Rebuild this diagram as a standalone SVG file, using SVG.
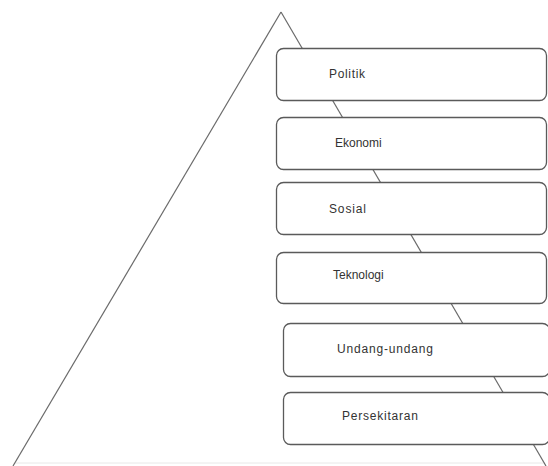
<svg xmlns="http://www.w3.org/2000/svg" width="548" height="466" viewBox="0 0 548 466">
<style>
.edge{stroke:#6a6a6a;stroke-width:1.2;fill:none}
.base{stroke:#e8e8e8;stroke-width:1;fill:none}
.box{fill:#fff;stroke:#5a5a5a;stroke-width:1.3}
.lbl{font-family:"Liberation Sans",Arial,sans-serif;font-size:12px;fill:#333;dominant-baseline:central}
</style>
<rect width="548" height="466" fill="#fff"/>
<g id="connectors">
<line class="base" x1="15" y1="463" x2="545" y2="463"/>
<line class="edge" x1="281" y1="12" x2="13" y2="466"/>
<line class="edge" x1="281" y1="12" x2="546" y2="466"/>
</g>
<g id="politik"><rect class="box" x="276.5" y="48.5" width="270" height="52" rx="7"/><text class="lbl" x="329" y="74" textLength="36" lengthAdjust="spacing">Politik</text></g>
<g id="ekonomi"><rect class="box" x="276.5" y="117.5" width="270" height="52" rx="7"/><text class="lbl" x="335" y="143">Ekonomi</text></g>
<g id="sosial"><rect class="box" x="276.5" y="182.5" width="270" height="52" rx="7"/><text class="lbl" x="329" y="209" textLength="37" lengthAdjust="spacing">Sosial</text></g>
<g id="teknologi"><rect class="box" x="276.5" y="252.5" width="270" height="51" rx="7"/><text class="lbl" x="333" y="275">Teknologi</text></g>
<g id="undang-undang"><rect class="box" x="283.5" y="323.5" width="266" height="53" rx="7"/><text class="lbl" x="337" y="349" textLength="96" lengthAdjust="spacing">Undang-undang</text></g>
<g id="persekitaran"><rect class="box" x="283.5" y="392.5" width="266" height="52" rx="7"/><text class="lbl" x="342" y="416" textLength="76" lengthAdjust="spacing">Persekitaran</text></g>
</svg>
